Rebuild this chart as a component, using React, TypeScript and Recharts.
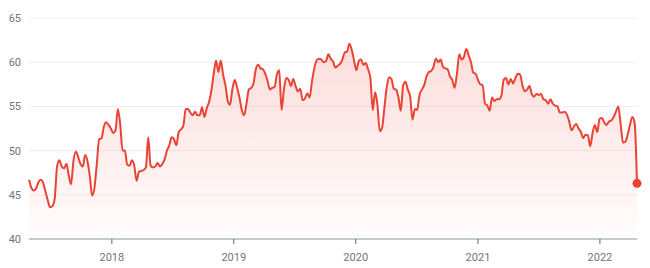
import { AreaChart, Area, XAxis, YAxis, CartesianGrid, ReferenceDot } from 'recharts';

// weekly closes, first week ending 2017-04-28
const START = Date.UTC(2017, 3, 28);
const WEEK = 7 * 24 * 3600 * 1000;

const prices = [
  46.7, 45.8, 45.5, 45.7, 46.4, 46.7, 46.4, 45.4, 44.4, 43.6,
  43.7, 44.6, 48.2, 48.9, 48.2, 48.0, 48.5, 47.2, 46.2, 48.8,
  49.9, 49.3, 48.5, 48.2, 49.5, 48.8, 47.1, 44.9, 45.8, 48.5,
  51.3, 51.4, 52.7, 53.2, 52.9, 52.5, 52.0, 52.3, 54.7, 53.0,
  50.0, 50.0, 48.4, 48.3, 48.9, 48.3, 46.6, 47.6, 47.7, 47.8,
  48.1, 51.5, 48.3, 48.1, 48.2, 48.6, 48.2, 48.5, 49.0, 50.0,
  50.6, 51.5, 51.3, 50.6, 52.1, 52.4, 52.8, 54.7, 54.7, 54.3,
  54.0, 54.4, 54.0, 54.0, 54.9, 53.8, 54.8, 55.5, 56.8, 58.7,
  60.2, 58.9, 60.2, 58.6, 57.4, 55.6, 55.2, 57.0, 58.0, 57.1,
  56.0, 54.6, 54.0, 55.3, 56.9, 57.1, 57.6, 59.2, 59.7, 59.3,
  59.2, 58.7, 57.9, 56.9, 57.1, 57.2, 58.6, 59.1, 54.6, 56.9,
  58.2, 58.0, 57.3, 58.1, 57.3, 56.7, 57.0, 55.7, 55.9, 56.5,
  56.0, 57.8, 59.3, 60.2, 60.4, 60.3, 60.0, 60.1, 60.9, 60.4,
  60.1, 59.4, 59.6, 59.8, 60.3, 61.1, 61.2, 62.1, 61.4, 60.2,
  59.1, 60.1, 60.3, 59.7, 59.9, 59.2, 58.2, 54.6, 56.6, 55.2,
  52.2, 52.6, 54.9, 57.2, 58.3, 58.1, 57.0, 56.9, 56.0, 54.5,
  57.4, 57.8, 56.9, 56.1, 53.5, 54.7, 54.6, 56.3, 56.9, 57.4,
  58.4, 58.9, 59.0, 59.5, 60.4, 60.0, 60.3, 59.5, 59.3, 59.2,
  58.4, 58.0, 57.1, 58.7, 60.9, 60.3, 60.6, 61.5, 60.8, 60.0,
  58.8, 58.7, 58.0, 57.5, 57.4, 55.3, 55.1, 54.5, 56.0, 55.6,
  55.8, 55.8, 56.2, 58.0, 58.2, 57.5, 58.1, 57.6, 58.2, 58.7,
  58.6, 57.4, 56.7, 56.9, 57.3, 56.4, 56.1, 56.4, 56.3, 56.4,
  55.8, 55.7, 55.3, 55.8, 55.3, 55.1, 55.0, 54.3, 54.3, 54.4,
  54.1, 53.3, 52.3, 52.7, 53.0, 52.5, 52.1, 51.4, 51.8, 51.7,
  50.5, 52.0, 52.9, 52.1, 53.6, 53.7, 53.2, 52.9, 53.3, 53.4,
  53.8, 54.4, 55.0, 53.0, 50.9, 51.0, 51.8, 52.9, 53.8, 53.1, 46.3,
];

const years = [2018, 2019, 2020, 2021, 2022];
const yTicks = [40, 45, 50, 55, 60, 65];

const RED = '#ea4335';

const data = prices.map((p, i) => ({ t: START + i * WEEK, price: p }));
const xTicks = years.map(y => Date.UTC(y, 0, 1));
const last = data[data.length - 1];

export default function App() {
  return (
    <div style={{ position: 'absolute', left: 0, top: 0, fontFamily: 'Roboto, Arial, sans-serif' }}>
      <AreaChart
        width={650}
        height={268}
        data={data}
        margin={{ top: 18, right: 13, bottom: 0, left: 0 }}
      >
        <defs>
          <linearGradient id="fillRed" x1="0" y1="0" x2="0" y2="1">
            <stop offset="0%" stopColor={RED} stopOpacity={0.3} />
            <stop offset="100%" stopColor={RED} stopOpacity={0.02} />
          </linearGradient>
        </defs>
        <CartesianGrid vertical={false} stroke="#eeeeee" />
        <XAxis
          dataKey="t"
          type="number"
          scale="time"
          domain={[data[0].t, last.t]}
          ticks={xTicks}
          tickFormatter={(v: number) => String(new Date(v).getUTCFullYear())}
          height={29}
          tickSize={5}
          tickMargin={9}
          axisLine={{ stroke: '#9aa0a6' }}
          tickLine={{ stroke: '#5f6368' }}
          tick={{ fill: '#70757a', fontSize: 11 }}
        />
        <YAxis
          domain={[40, 65]}
          ticks={yTicks}
          width={29}
          axisLine={false}
          tickLine={false}
          tick={{ fill: '#70757a', fontSize: 11 }}
        />
        <Area
          type="monotone"
          dataKey="price"
          stroke={RED}
          strokeWidth={2}
          fill="url(#fillRed)"
          dot={false}
          activeDot={false}
          isAnimationActive={false}
        />
        <ReferenceDot x={last.t} y={last.price} r={4.5} fill={RED} stroke="none" />
      </AreaChart>
    </div>
  );
}
